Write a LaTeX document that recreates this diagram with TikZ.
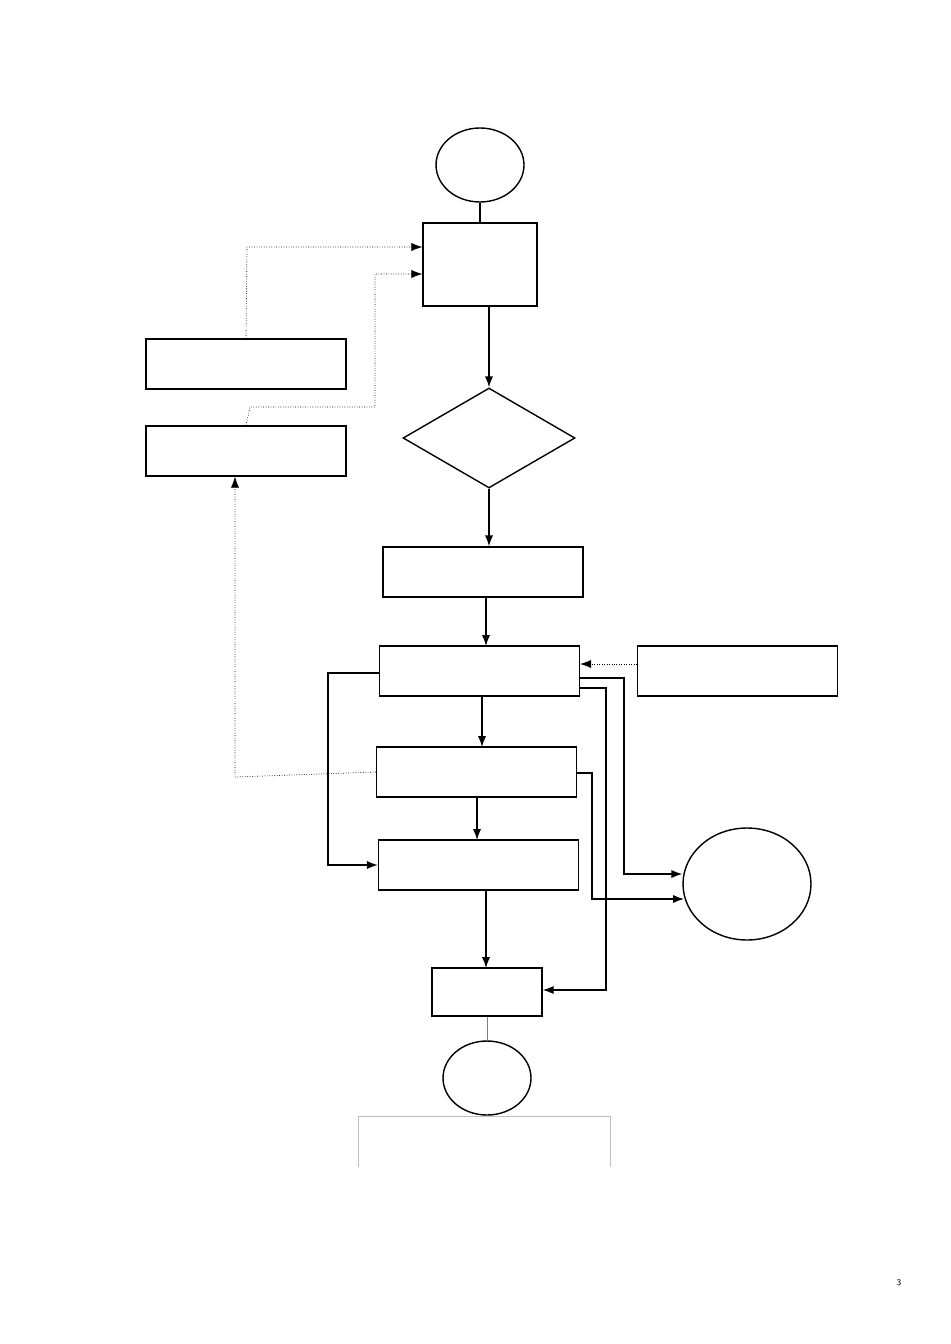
\documentclass[tikz,border=0pt]{standalone}
\usepackage{tikz}
\usetikzlibrary{positioning, arrows.meta, shapes.geometric}
\tikzstyle{box} = [rectangle, draw, thick, minimum width=4cm, minimum height=1cm, inner sep=0pt]
\tikzstyle{term} = [ellipse, draw, thick, minimum width=1.76cm, minimum height=1.48cm, inner sep=0pt]
\tikzstyle{arrow} = [thick, -{Latex[length=2.2mm]}]
\tikzstyle{dotarrow} = [thin, densely dotted, -{Latex[length=2.2mm]}]
\begin{document}
\begin{tikzpicture}[x=0.02cm, y=-0.02cm]
    \useasboundingbox (0,0) rectangle (950,1344);

    % main column
    \node[term] (start) at (480,165) {};
    \node[box, minimum width=2.28cm, minimum height=1.66cm] (input) at (480,264.5) {};
    \node[diamond, draw, thick, minimum width=3.44cm, minimum height=2cm, inner sep=0pt] (check) at (489,438) {};
    \node[box] (prep) at (483,572) {};
    \node[box] (proc) at (479.5,671) {};
    \node[box] (eval) at (476.5,772) {};
    \node[box] (merge) at (478.5,865) {};
    \node[box, minimum width=2.2cm, minimum height=0.96cm] (out) at (487,992) {};
    \node[term] (stop) at (487,1078) {};

    % side boxes
    \node[box] (paramA) at (246,364) {};
    \node[box] (paramB) at (246,451) {};
    \node[box] (extern) at (737.5,671) {};
    \node[ellipse, draw, thick, minimum width=2.56cm, minimum height=2.24cm, inner sep=0pt] (store) at (747,884) {};

    % main flow
    \draw[thick] (start.south) -- (input.south |- start.south) -- (input.north);
    \draw[arrow] (input.south -| check.north) -- (check.north);
    \draw[arrow] (check.south) -- (check.south |- prep.north);
    \draw[arrow] (486,597) -- (486,646);
    \draw[arrow] (482,696) -- (482,747);
    \draw[arrow] (477,797) -- (477,840);
    \draw[arrow] (486,890) -- (486,968);
    \draw[gray] (out.south) -- (stop.north);

    % feedback lines
    \draw[dotarrow] (paramA.north) -- (247,247) -- (input.west |- 0,247);
    \draw[dotarrow] (paramB.north) -- (250,407) -- (375,407) -- (375,274) -- (input.west |- 0,274);
    \draw[dotarrow] (eval.west) -- (235,777) -- (paramB.south -| 235,0);
    \draw[dotarrow] (extern.west |- 0,664) -- (proc.east |- 0,664);

    % branches
    \draw[arrow] (proc.west |- 0,673) -- (328,673) -- (328,865) -- (merge.west);
    \draw[arrow] (proc.east |- 0,678) -- (624,678) -- (624,874) -- (store.west |- 0,874);
    \draw[arrow] (proc.east |- 0,688) -- (606,688) -- (606,990) -- (out.east |- 0,990);
    \draw[arrow] (eval.east |- 0,773) -- (592,773) -- (592,899) -- (684,899);

    % open frame below
    \draw[gray!50] (358,1167) -- (358,1116) -- (610,1116) -- (610,1167);

    \node[font=\tiny\sffamily] (page) at (899,1283) {3};
\end{tikzpicture}
\end{document}
